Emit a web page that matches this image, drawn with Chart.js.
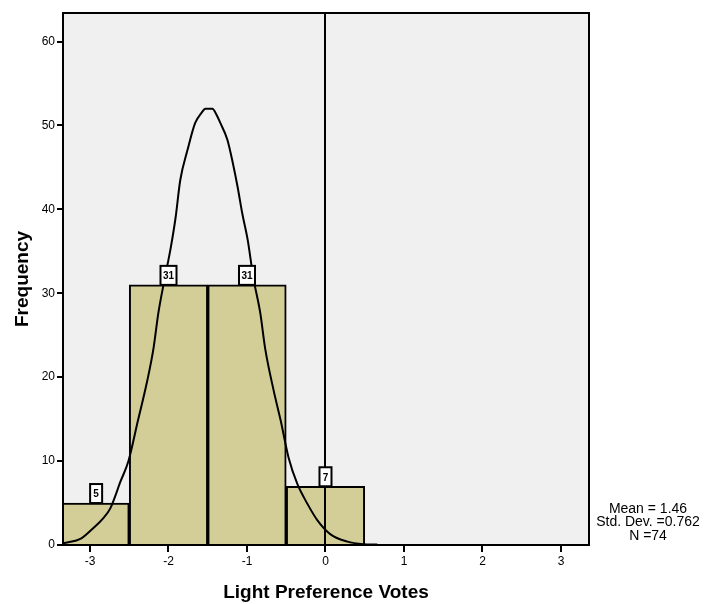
<!DOCTYPE html>
<html>
<head>
<meta charset="utf-8">
<script src="https://cdn.jsdelivr.net/npm/chart.js@4/dist/chart.umd.min.js"></script>
<style>
  html, body { margin: 0; padding: 0; background: #ffffff; }
  #wrap { width: 715px; height: 604px; position: relative; }
</style>
</head>
<body>
<div id="wrap"><canvas id="c" width="715" height="604"></canvas></div>
<script>
// ---- data ----
const binCenters = [-3, -2, -1, 0];
const binCounts  = [5, 31, 31, 7];
const binLabels  = ['5', '31', '31', '7'];

const curveX = [-3.34, -3.11, -2.96, -2.83, -2.74, -2.61, -2.51, -2.39, -2.27, -2.19, -2.13, -2.06,
                -1.97, -1.91, -1.85, -1.76, -1.66, -1.58, -1.53, -1.44, -1.39, -1.34, -1.25, -1.18,
                -1.12, -1.06, -0.99, -0.92, -0.83, -0.77, -0.66, -0.57, -0.47, -0.36, -0.23, -0.10,
                0.06, 0.28, 0.48, 0.66];
const curveY = [0.2, 0.8, 2.0, 3.2, 4.4, 7.6, 10.0, 14.8, 19.6, 23.5, 27.6, 31.2,
                35.5, 39.0, 43.5, 47.0, 50.3, 51.5, 52.0, 52.0, 51.3, 50.3, 48.3, 45.5,
                42.7, 39.5, 36.3, 31.9, 27.6, 23.5, 18.4, 14.8, 10.4, 7.3, 4.9, 2.9,
                1.3, 0.4, 0.1, 0.05];

const xTickValues = [-3, -2, -1, 0, 1, 2, 3];
const yTickValues = [0, 10, 20, 30, 40, 50, 60];
const referenceLineX = 0;
const statsLines = ['Mean = 1.46', 'Std. Dev. =0.762', 'N =74'];
const xTitle = 'Light Preference Votes';
const yTitle = 'Frequency';

// ---- chart ----
const FONT = 'Liberation Sans, Arial, sans-serif';

const frameAndExtras = {
  id: 'frameAndExtras',
  beforeDraw(chart) {
    const {ctx, chartArea: a} = chart;
    ctx.save();
    ctx.fillStyle = '#f0f0f0';
    ctx.fillRect(a.left, a.top, a.right - a.left, a.bottom - a.top);
    ctx.restore();
  },
  afterDatasetsDraw(chart) {
    const {ctx, chartArea: a, scales} = chart;
    ctx.save();
    // reference line
    const zx = Math.round(scales.x.getPixelForValue(referenceLineX));
    ctx.strokeStyle = '#000';
    ctx.lineWidth = 2;
    ctx.beginPath();
    ctx.moveTo(zx, a.top);
    ctx.lineTo(zx, a.bottom);
    ctx.stroke();
    // count label boxes
    const meta = chart.getDatasetMeta(0);
    ctx.font = 'bold 10px ' + FONT;
    ctx.textAlign = 'center';
    ctx.textBaseline = 'middle';
    meta.data.forEach((bar, i) => {
      const l = Math.max(bar.x - bar.width / 2, a.left);
      const r = Math.min(bar.x + bar.width / 2, a.right);
      const cx = (l + r) / 2;
      const txt = binLabels[i];
      const w = txt.length > 1 ? 16 : 12;
      const h = 19;
      const top = bar.y - h;
      ctx.fillStyle = '#ffffff';
      ctx.fillRect(cx - w / 2, top, w, h);
      ctx.strokeStyle = '#000';
      ctx.lineWidth = 2;
      ctx.strokeRect(cx - w / 2, top, w, h);
      ctx.fillStyle = '#000';
      ctx.fillText(txt, cx, top + h / 2 + 1);
    });
    // frame
    ctx.lineWidth = 2;
    ctx.strokeStyle = '#000';
    ctx.strokeRect(a.left, a.top, a.right - a.left, a.bottom - a.top);
    // stats text
    ctx.font = '14px ' + FONT;
    ctx.fillStyle = '#000';
    ctx.textAlign = 'center';
    ctx.textBaseline = 'middle';
    const sx = a.right + 59;
    statsLines.forEach((s, i) => ctx.fillText(s, sx, a.bottom - 36 + i * 13.5));
    ctx.restore();
  }
};

new Chart(document.getElementById('c'), {
  type: 'bar',
  data: {
    datasets: [
      {
        type: 'bar',
        data: binCenters.map((x, i) => ({x, y: binCounts[i]})),
        backgroundColor: '#d3ce98',
        borderColor: '#000000',
        borderWidth: 2,
        barPercentage: 1.0,
        categoryPercentage: 1.0,
        order: 2
      },
      {
        type: 'line',
        data: curveX.map((x, i) => ({x, y: curveY[i]})),
        borderColor: '#000000',
        borderWidth: 2,
        pointRadius: 0,
        cubicInterpolationMode: 'monotone',
        fill: false,
        order: 1
      }
    ]
  },
  options: {
    responsive: false,
    animation: false,
    devicePixelRatio: 1,
    layout: { padding: { left: 0, top: 13, right: 126, bottom: 0 } },
    plugins: { legend: { display: false }, tooltip: { enabled: false } },
    scales: {
      x: {
        type: 'linear',
        min: -3.344,
        max: 3.357,
        offset: false,
        afterBuildTicks: s => { s.ticks = xTickValues.map(v => ({value: v})); },
        afterFit: s => { s.height = 59; },
        grid: { display: true, offset: false, drawOnChartArea: false, drawTicks: true, tickLength: 7, color: '#000', lineWidth: 2 },
        border: { display: false },
        ticks: { color: '#000', font: { family: FONT, size: 12 }, padding: 2, maxRotation: 0,
                 callback: v => String(v) },
        title: { display: true, text: xTitle, color: '#000',
                 font: { family: FONT, size: 19, weight: 'bold' }, padding: { top: 0, bottom: 0 } }
      },
      y: {
        type: 'linear',
        min: 0,
        max: 63.4,
        afterBuildTicks: s => { s.ticks = yTickValues.map(v => ({value: v})); },
        afterFit: s => { s.width = 63; },
        grid: { display: true, offset: false, drawOnChartArea: false, drawTicks: true, tickLength: 6, color: '#000', lineWidth: 2 },
        border: { display: false },
        ticks: { color: '#000', font: { family: FONT, size: 12 }, padding: 2,
                 callback: v => String(v) },
        title: { display: true, text: yTitle, color: '#000',
                 font: { family: FONT, size: 19, weight: 'bold' }, padding: { top: 11, bottom: 0 } }
      }
    }
  },
  plugins: [frameAndExtras]
});
</script>
</body>
</html>
